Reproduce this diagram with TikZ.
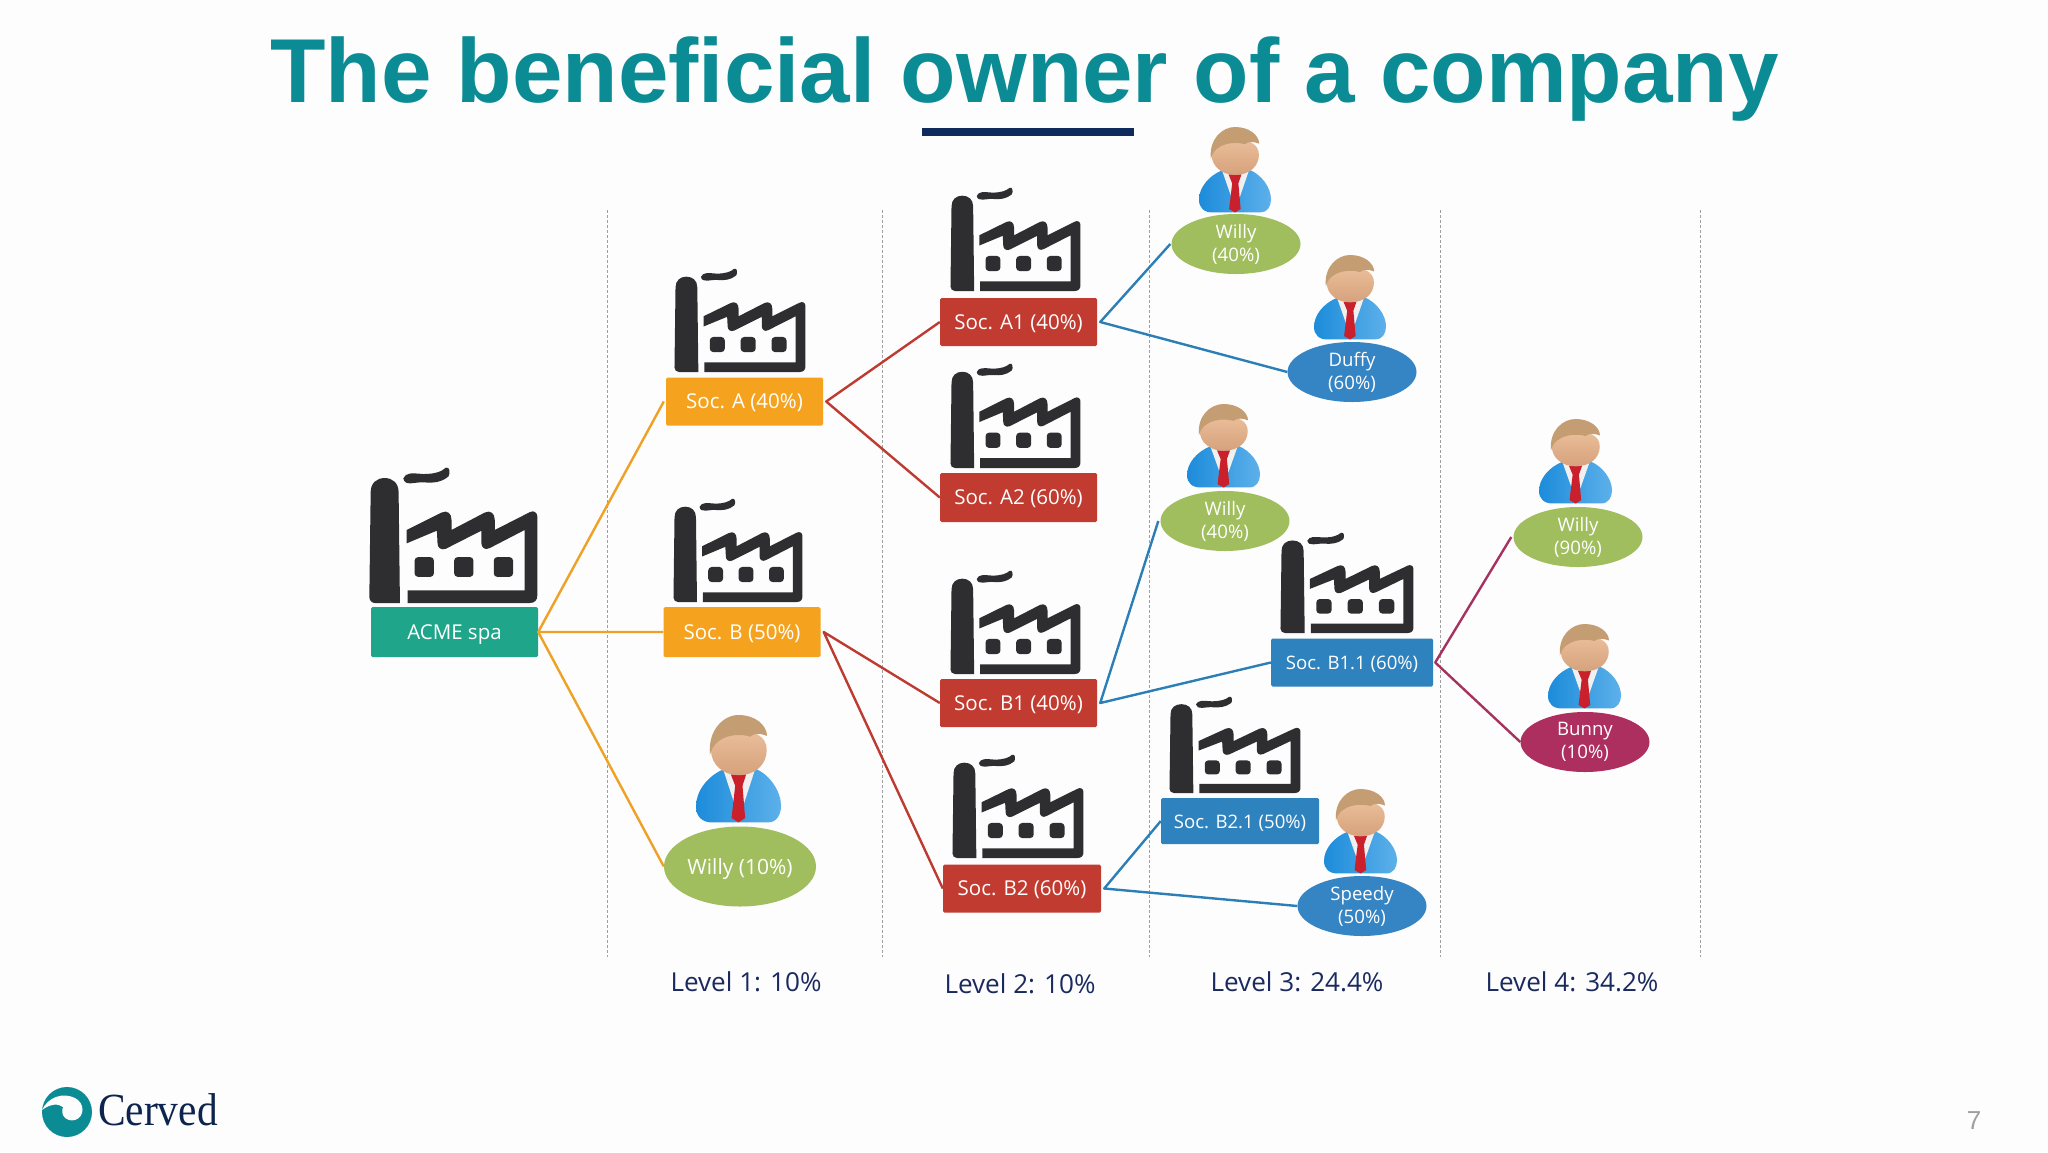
\documentclass[tikz,border=0pt]{standalone}
\usepackage{fontspec}
\setmainfont{Open Sans}
\newfontfamily\titlefont{Liberation Sans}
\newfontfamily\logofont{Liberation Serif}
\usetikzlibrary{shapes.geometric}
\definecolor{bgc}{HTML}{FDFDFE}
\definecolor{titlec}{HTML}{0B8C95}
\definecolor{navyc}{HTML}{0F2A5C}
\definecolor{labc}{HTML}{1B2A5E}
\definecolor{darkc}{HTML}{2E2D30}
\definecolor{greenb}{HTML}{1FA58A}
\definecolor{orangeb}{HTML}{F5A31F}
\definecolor{redb}{HTML}{C23B30}
\definecolor{blueb}{HTML}{2E82BE}
\definecolor{greene}{HTML}{A0BE5E}
\definecolor{bluee}{HTML}{3584C4}
\definecolor{mage}{HTML}{AD2F5F}
\definecolor{orangel}{HTML}{EFA125}
\definecolor{redl}{HTML}{BD3B30}
\definecolor{bluel}{HTML}{2C7FB6}
\definecolor{magl}{HTML}{A63260}
\tikzset{
  x=1pt,y=-1pt,
  txt/.style={text=white,font=\fontsize{18.6}{23}\selectfont,align=center,inner sep=0pt},
  rbox/.style={txt,rectangle,rounded corners=1.5pt,minimum width=#1,minimum height=48pt,text height=18pt,text depth=4pt,font=\fontsize{20.5}{23}\selectfont},
  rbox/.default=157pt,
  oval/.style={txt,ellipse,minimum width=129pt,minimum height=60pt},
  link/.style={line width=2.4pt,line join=round},
  sep/.style={line width=0.9pt,draw=gray!75,dash pattern=on 3pt off 2pt},
  lev/.style={text=labc,font=\fontsize{26.1}{30}\selectfont,inner sep=0pt},
  factory/.pic={
    \begin{scope}[shift={(-90,-55)}]
      \fill[darkc] (92,127) .. controls (92,100) and (110,85) .. (134,85)
        .. controls (158,85) and (176,100) .. (176,127) -- (180,458) -- (105,458)
        .. controls (95,458) and (88,450) .. (88,440) -- cycle;
      \fill[darkc] (190,86) .. controls (198,68) and (215,70) .. (250,73)
        .. controls (285,73) and (305,66) .. (318,54) .. controls (330,50) and (332,70) .. (326,80)
        .. controls (305,98) and (280,100) .. (255,98) .. controls (225,95) and (195,112) .. (190,86) -- cycle;
      \fill[darkc,even odd rule] (200,240) -- (305,188) .. controls (322,180) and (335,190) .. (335,210) -- (335,240)
        -- (435,188) .. controls (452,180) and (465,190) .. (465,210) -- (465,240)
        -- (570,187) .. controls (582,180) and (593,188) .. (593,200)
        -- (593,435) .. controls (593,450) and (585,458) .. (570,458) -- (203,458) -- (203,420) -- (555,420) -- (555,240)
        -- (450,294) .. controls (435,302) and (425,292) .. (425,280) -- (425,242)
        -- (318,296) .. controls (303,302) and (293,292) .. (293,280) -- (291,242) -- (200,280) -- cycle;
      \foreach \cx in {253,372,491}
        \fill[darkc,rounded corners=3.5pt] (\cx-29,321) rectangle (\cx+29,380);
    \end{scope}
  },
  person/.pic={
    \begin{scope}[shift={(-107,-45)}]
      \shade[left color=HTMLbodyl,right color=HTMLbodyr]
        (190,208) .. controls (140,230) and (107,275) .. (107,320)
        .. controls (107,350) and (125,370) .. (160,368) -- (325,368)
        .. controls (350,368) and (363,345) .. (363,318)
        .. controls (363,275) and (330,225) .. (285,206) -- cycle;
      \fill[gray!12] (190,212) -- (285,208) -- (252,310) -- (222,310) -- cycle;
      \fill[HTMLtie] (212,224) -- (258,224) -- (247,258) -- (255,355) -- (235,368) -- (214,355) -- (225,258) -- cycle;
      \shade[top color=HTMLskint,bottom color=HTMLskinb]
        (152,150) .. controls (152,110) and (190,90) .. (235,92)
        .. controls (285,92) and (320,110) .. (320,150)
        .. controls (320,195) and (285,226) .. (235,226)
        .. controls (190,226) and (152,195) .. (152,150) -- cycle;
      \fill[HTMLhair] (149,165) .. controls (142,90) and (190,45) .. (235,45)
        .. controls (285,45) and (320,75) .. (321,108)
        .. controls (300,100) and (285,98) .. (270,110)
        .. controls (240,100) and (165,100) .. (149,165) -- cycle;
    \end{scope}
  }
}
\definecolor{HTMLbodyl}{HTML}{1C8CDA}
\definecolor{HTMLbodyr}{HTML}{5DB0EA}
\definecolor{HTMLtie}{HTML}{C9202C}
\definecolor{HTMLskint}{HTML}{EBBE9A}
\definecolor{HTMLskinb}{HTML}{D5A27C}
\definecolor{HTMLhair}{HTML}{C49D72}
\newcommand{\fac}[4]{\pic[shift={(#1,#2)},xscale=#3/505,yscale=#4/403]{factory};}
\newcommand{\man}[4]{\pic[shift={(#1,#2)},xscale=#3/256,yscale=#4/325]{person};}
\begin{document}
\begin{tikzpicture}
\useasboundingbox (0,0) rectangle (2048,1152);
\fill[bgc] (0,0) rectangle (2048,1152);

% title
\node[anchor=base,text=titlec,inner sep=0pt,font=\titlefont\bfseries\fontsize{90.8}{100}\selectfont] (title) at (1024.5,102) {The beneficial owner of a company};
\fill[navyc] (922,128) rectangle (1134,136);

% column separators
\foreach \i/\sx in {1/607.5,2/882,3/1149,4/1440.5,5/1700.5}{
  \coordinate (top\i) at (\sx,210);
  \coordinate (bot\i) at (\sx,957);
  \draw[sep] (top\i) -- (bot\i);
}

% factories
\fac{370}{468}{168}{135}
\fac{675}{269}{131}{103}
\fac{674}{499}{129}{103}
\fac{951}{188}{130}{103}
\fac{951}{364}{130}{104}
\fac{951}{571}{130}{103}
\fac{953}{755}{131}{103}
\fac{1281}{533}{133}{100}
\fac{1170}{697}{131}{96}

% persons
\man{696}{715}{85}{108}
\man{1199}{127}{72}{86}
\man{1314}{255}{72}{85}
\man{1187}{404}{73}{84}
\man{1539}{419}{73}{85}
\man{1548}{624}{73}{85}
\man{1324}{789}{73}{85}

% boxes
\node[rbox=167pt,fill=greenb,minimum height=50pt] (acme) at (454.5,632) {ACME spa};
\node[rbox,fill=orangeb] (a) at (744.5,401.5) {Soc. A (40\%)};
\node[rbox,fill=orangeb,minimum height=50pt] (b) at (742,632) {Soc. B (50\%)};
\node[rbox,fill=redb] (a1) at (1018.5,322) {Soc. A1 (40\%)};
\node[rbox,fill=redb,minimum height=49pt] (a2) at (1018.5,497.5) {Soc. A2 (60\%)};
\node[rbox,fill=redb] (b1) at (1018.5,703) {Soc. B1 (40\%)};
\node[rbox=158pt,fill=redb] (b2) at (1022,888.5) {Soc. B2 (60\%)};
\node[rbox=162pt,fill=blueb,font=\fontsize{18.6}{22}\selectfont] (b11) at (1352,662.5) {Soc. B1.1 (60\%)};
\node[rbox=158pt,fill=blueb,minimum height=46pt,font=\fontsize{18.6}{22}\selectfont] (b21) at (1240,821) {Soc. B2.1 (50\%)};

% ellipses
\node[oval,fill=greene,minimum width=152pt,minimum height=80pt,font=\fontsize{21}{24}\selectfont,text height=19pt,text depth=3pt] (w10) at (740,866.5) {Willy (10\%)};
\node[oval,fill=greene] (w40a) at (1236,244) {Willy\\(40\%)};
\node[oval,fill=bluee] (duffy) at (1352,372) {Duffy\\(60\%)};
\node[oval,fill=greene] (w40b) at (1225,521) {Willy\\(40\%)};
\node[oval,fill=bluee] (speedy) at (1362,906) {Speedy\\(50\%)};
\node[oval,fill=greene] (w90) at (1578,537) {Willy\\(90\%)};
\node[oval,fill=mage] (bunny) at (1585,742) {Bunny\\(10\%)};

% connectors
\draw[link,orangel] ([xshift=-2pt]a.west) -- (acme.east) -- (b.west);
\draw[link,orangel] (acme.east) -- (w10.west);
\draw[link,redl] (a1.west) -- ([xshift=3pt]a.east) -- (a2.west);
\draw[link,redl] (b1.west) -- ([xshift=3pt]b.east) -- (b2.west);
\draw[link,bluel] ([xshift=-1pt]w40a.west) -- ([xshift=3pt]a1.east) -- (duffy.west);
\draw[link,bluel] ([xshift=-2pt]w40b.west) -- ([xshift=3pt]b1.east) -- (b11.west);
\draw[link,bluel] (b21.west) -- ([xshift=3pt]b2.east) -- (speedy.west);
\draw[link,magl] ([xshift=-2pt]w90.west) -- ([xshift=2pt]b11.east) -- (bunny.west);

% level labels
\node[lev] (l1) at (746,982) {Level 1: 10\%};
\node[lev] (l2) at (1020,984) {Level 2: 10\%};
\node[lev] (l3) at (1297,982) {Level 3: 24.4\%};
\node[lev] (l4) at (1572,982) {Level 4: 34.2\%};

% logo
\fill[titlec] (67,1112) circle (25);
\fill[bgc] (42,1110) .. controls (48,1097) and (63,1092) .. (75,1098)
  .. controls (85,1103) and (85,1117) .. (75,1120)
  .. controls (66,1122) and (60,1115) .. (63,1107)
  .. controls (58,1103) and (50,1104) .. (42,1110) -- cycle;
\node[anchor=base west,inner sep=0pt,xscale=0.9,transform shape,text=navyc!85!black,font=\logofont\fontsize{46}{50}\selectfont] (logo) at (98,1125) {Cerved};

% page number
\node[text=gray!75,font=\titlefont\fontsize{26}{28}\selectfont,inner sep=0pt] (pageno) at (1974,1121) {7};
\end{tikzpicture}
\end{document}
